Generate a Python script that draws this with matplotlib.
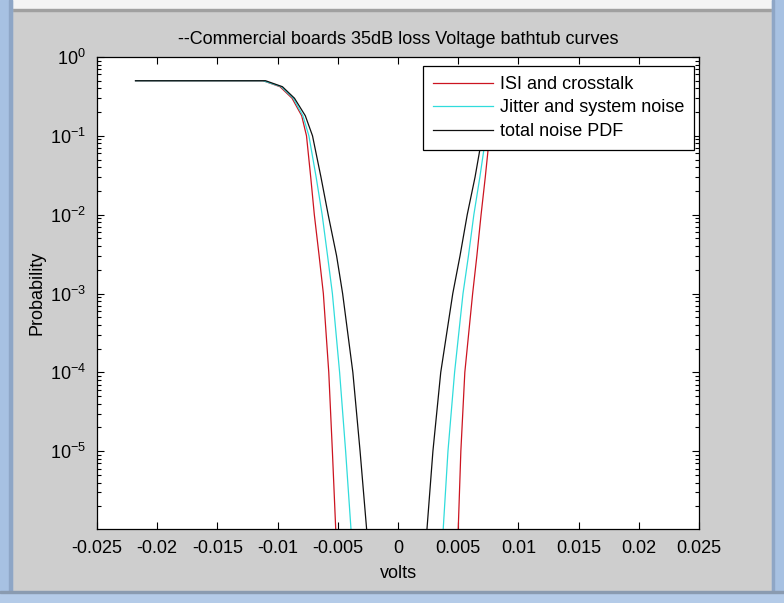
import numpy as np
import matplotlib
matplotlib.use("Agg")
import matplotlib.pyplot as plt
from matplotlib.patches import Rectangle
from matplotlib.ticker import FixedLocator, FixedFormatter, LogLocator, NullFormatter

# probability levels (top to bottom)
prob = [0.5, 0.5, 0.42, 0.3, 0.18, 0.1, 0.03, 1e-2, 3e-3, 1e-3, 1e-4, 1e-5, 1e-6]

# left branch offsets in mV, same order as prob
isi_left = [-21.8, -11.2, -9.8, -8.8, -8.0, -7.6, -7.25, -6.95, -6.55, -6.2, -5.75, -5.45, -5.17]
jit_left = [-21.8, -11.2, -9.7, -8.7, -7.9, -7.4, -6.8, -6.3, -5.85, -5.45, -4.85, -4.35, -3.9]
tot_left = [-21.8, -11.0, -9.6, -8.6, -7.7, -7.1, -6.4, -5.8, -5.1, -4.6, -3.75, -3.15, -2.6]

# right branch offsets in mV, same order as prob (top to bottom)
isi_right = [21.8, 11.2, 9.8, 8.8, 8.0, 7.6, 7.25, 6.9, 6.55, 6.2, 5.55, 5.22, 5.0]
jit_right = [21.8, 11.2, 9.7, 8.7, 7.9, 7.3, 6.8, 6.3, 5.85, 5.4, 4.7, 4.15, 3.75]
tot_right = [21.8, 11.0, 9.6, 8.6, 7.7, 7.0, 6.4, 5.75, 5.15, 4.55, 3.55, 2.9, 2.4]

labels = ["ISI and crosstalk", "Jitter and system noise", "total noise PDF"]
colors = ["#cc1420", "#30dcdc", "#101010"]

xticks = [-0.025, -0.02, -0.015, -0.01, -0.005, 0, 0.005, 0.01, 0.015, 0.02, 0.025]
xticklabels = ["-0.025", "-0.02", "-0.015", "-0.01", "-0.005", "0",
               "0.005", "0.01", "0.015", "0.02", "0.025"]
yticks = [1e-5, 1e-4, 1e-3, 1e-2, 1e-1, 1e0]


def branch(left, right):
    # join both sides with a gap so there is no line along the floor
    x = np.r_[np.array(left), np.nan, np.array(right)[::-1]] / 1000.0
    y = np.r_[np.array(prob), np.nan, np.array(prob)[::-1]]
    return x, y


def add_window_frame(fig):
    W, H = 784.0, 603.0
    def rect(x, y, w, h, c):
        fig.patches.append(Rectangle((x / W, 1 - (y + h) / H), w / W, h / H,
                                     transform=fig.transFigure, color=c, zorder=-1))
    rect(0, 0, 784, 9, "#f4f4f4")
    rect(0, 9, 784, 1.5, "#a0a0a0")
    rect(0, 0, 12, 603, "#a7c1e2")
    rect(9, 0, 3, 603, "#8ea6c6")
    rect(772, 0, 12, 603, "#a7c1e2")
    rect(772, 0, 2, 603, "#8ea6c6")
    rect(0, 592, 784, 11, "#b4cbe8")
    rect(0, 591, 784, 1.5, "#8a9bb0")


def plot_bathtub():
    fig = plt.figure(figsize=(7.84, 6.03), dpi=100, facecolor="#cecece")
    add_window_frame(fig)
    ax = fig.add_axes([97 / 784, 74 / 603, 602 / 784, 472 / 603])
    ax.set_facecolor("white")

    curves = [(isi_left, isi_right), (jit_left, jit_right), (tot_left, tot_right)]
    for (l, r), lab, c in zip(curves, labels, colors):
        x, y = branch(l, r)
        ax.plot(x, y, color=c, lw=0.9, label=lab)

    ax.set_yscale("log")
    ax.set_xlim(-0.025, 0.025)
    ax.set_ylim(1.03e-6, 1)
    ax.xaxis.set_major_locator(FixedLocator(xticks))
    ax.xaxis.set_major_formatter(FixedFormatter(xticklabels))
    ax.yaxis.set_major_locator(FixedLocator(yticks))
    ax.yaxis.set_minor_locator(LogLocator(base=10, subs=np.arange(2, 10), numticks=20))
    ax.yaxis.set_minor_formatter(NullFormatter())

    ax.tick_params(which="both", direction="in", top=True, right=True,
                   labelsize=13, width=0.8, colors="black")
    ax.tick_params(which="major", length=5, pad=8)
    ax.tick_params(which="minor", length=3)
    for s in ax.spines.values():
        s.set_linewidth(0.9)

    ax.set_title("--Commercial boards 35dB loss Voltage bathtub curves",
                 fontsize=13, pad=9)
    ax.set_xlabel("volts", fontsize=13, labelpad=6)
    ax.set_ylabel("Probability", fontsize=13)
    ax.yaxis.set_label_coords(-0.086, 0.5)

    leg = ax.legend(loc="upper right", bbox_to_anchor=(0.992, 0.981),
                    borderaxespad=0, fontsize=13, fancybox=False, framealpha=1,
                    edgecolor="black", handlelength=3.3, handletextpad=0.4,
                    labelspacing=0.36, borderpad=0.55)
    leg.get_frame().set_linewidth(0.9)
    return fig


if __name__ == "__main__":
    plt.rcParams["font.family"] = ["Liberation Sans", "DejaVu Sans"]
    plt.rcParams["mathtext.fontset"] = "custom"
    plt.rcParams["mathtext.rm"] = "Liberation Sans"
    plot_bathtub()
    plt.savefig("out.png", dpi=100)
